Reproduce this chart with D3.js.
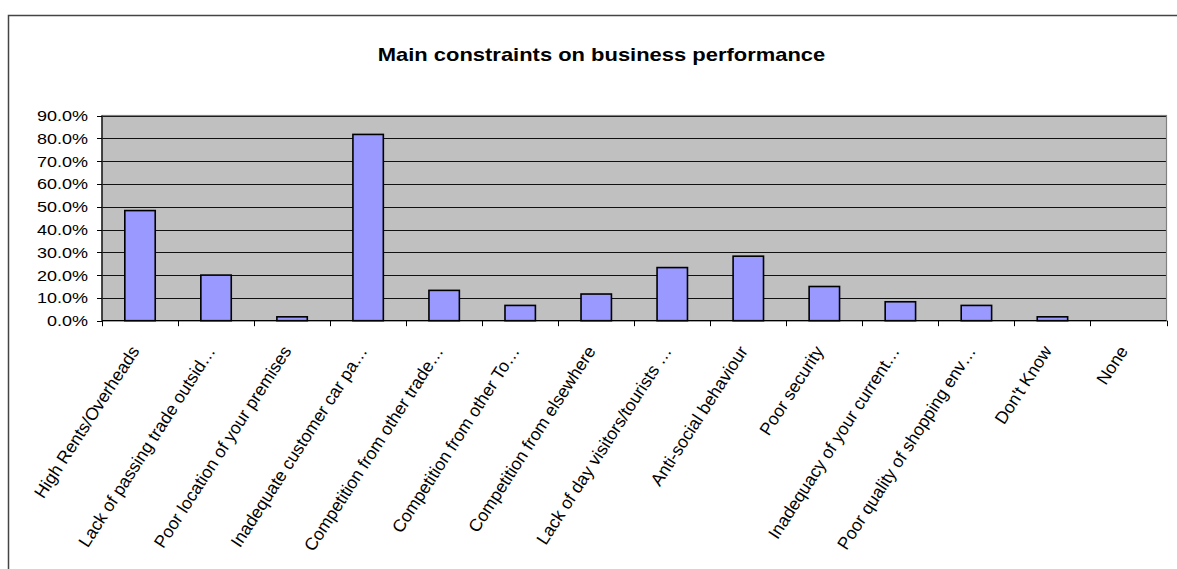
<!DOCTYPE html>
<html>
<head>
<meta charset="utf-8">
<script src="https://cdn.jsdelivr.net/npm/d3@7"></script>
<style>
  html, body { margin: 0; padding: 0; background: #fff; }
  svg { display: block; font-family: "Liberation Sans", Arial, sans-serif; }
</style>
</head>
<body>
<svg id="chart" width="1177" height="569"></svg>
<script>
const title = "Main constraints on business performance";
const categories = [
  "High Rents/Overheads",
  "Lack of passing trade outsid\u2026",
  "Poor location of your premises",
  "Inadequate customer car pa\u2026",
  "Competition from other trade\u2026",
  "Competition from other To\u2026",
  "Competition from elsewhere",
  "Lack of day visitors/tourists \u2026",
  "Anti-social behaviour",
  "Poor security",
  "Inadequacy of your current\u2026",
  "Poor quality of shopping env\u2026",
  "Don't Know",
  "None"
];
const values = [0.483, 0.200, 0.017, 0.817, 0.133, 0.067, 0.117, 0.233, 0.283, 0.150, 0.083, 0.067, 0.017, 0.0];
const yTicks = [0, 0.1, 0.2, 0.3, 0.4, 0.5, 0.6, 0.7, 0.8, 0.9];

const svg = d3.select("#chart");
const plot = { left: 102, right: 1166.5, top: 115.5, bottom: 320.7 };

// outer chart border (extends past the picture on right/bottom)
svg.append("rect")
  .attr("x", 8.5).attr("y", 15.5)
  .attr("width", 1200).attr("height", 600)
  .attr("fill", "#fff").attr("stroke", "#444").attr("stroke-width", 1.5);

// title
svg.append("text")
  .attr("transform", `translate(601.5,61) scale(1.22,1)`)
  .attr("text-anchor", "middle")
  .attr("font-weight", "bold")
  .attr("font-size", 18)
  .attr("fill", "#000")
  .text(title);

const x = d3.scaleBand().domain(categories).range([plot.left, plot.right]).padding(0);
const xBar = d3.scaleBand().domain(categories).range([plot.left, plot.right])
  .paddingInner(0.6).paddingOuter(0.3);
const y = d3.scaleLinear().domain([0, 0.9]).range([plot.bottom, plot.top]);

// plot background
svg.append("rect")
  .attr("x", plot.left).attr("y", plot.top)
  .attr("width", plot.right - plot.left).attr("height", plot.bottom - plot.top)
  .attr("fill", "#c0c0c0");

// gridlines
svg.append("g").selectAll("line").data(yTicks.filter(d => d > 0)).join("line")
  .attr("x1", plot.left).attr("x2", plot.right)
  .attr("y1", d => Math.round(y(d)) + 0.5).attr("y2", d => Math.round(y(d)) + 0.5)
  .attr("stroke", "#111").attr("stroke-width", 1);

// plot border
svg.append("rect")
  .attr("x", plot.left).attr("y", plot.top)
  .attr("width", plot.right - plot.left).attr("height", plot.bottom - plot.top)
  .attr("fill", "none").attr("stroke", "#808080").attr("stroke-width", 1.2);

// bars
svg.append("g").selectAll("rect").data(categories).join("rect")
  .attr("x", d => xBar(d))
  .attr("width", xBar.bandwidth())
  .attr("y", (d, i) => y(values[i]))
  .attr("height", (d, i) => plot.bottom - y(values[i]))
  .attr("fill", "#9999ff")
  .attr("stroke", "#000")
  .attr("stroke-width", 1.6);

// y axis
const yAxis = svg.append("g");
yAxis.append("line")
  .attr("x1", plot.left).attr("x2", plot.left)
  .attr("y1", plot.top).attr("y2", plot.bottom)
  .attr("stroke", "#000").attr("stroke-width", 1.2);
yAxis.selectAll("line.tick").data(yTicks).join("line").attr("class", "tick")
  .attr("x1", plot.left - 5).attr("x2", plot.left)
  .attr("y1", d => Math.round(y(d)) + 0.5).attr("y2", d => Math.round(y(d)) + 0.5)
  .attr("stroke", "#000");
yAxis.selectAll("text").data(yTicks).join("text")
  .attr("transform", d => `translate(88,${y(d)}) scale(1.2,1)`)
  .attr("dy", "0.36em")
  .attr("text-anchor", "end")
  .attr("font-size", 15)
  .attr("fill", "#000")
  .text(d => d3.format(".1%")(d));

// x axis
const xAxis = svg.append("g");
xAxis.append("line")
  .attr("x1", plot.left).attr("x2", plot.right)
  .attr("y1", plot.bottom).attr("y2", plot.bottom)
  .attr("stroke", "#000").attr("stroke-width", 1.2);
const bounds = categories.map(c => x(c)).concat([x(categories[categories.length - 1]) + x.bandwidth()]);
xAxis.selectAll("line.tick").data(bounds).join("line").attr("class", "tick")
  .attr("x1", d => Math.round(d) + 0.5).attr("x2", d => Math.round(d) + 0.5)
  .attr("y1", plot.bottom).attr("y2", plot.bottom + 5.5)
  .attr("stroke", "#000");
xAxis.selectAll("text").data(categories).join("text")
  .attr("transform", d => `translate(${x(d) + x.bandwidth() / 2},351) rotate(-57)`)
  .attr("text-anchor", "end")
  .attr("font-size", 17.5)
  .attr("fill", "#000")
  .text(d => d);
</script>
</body>
</html>
